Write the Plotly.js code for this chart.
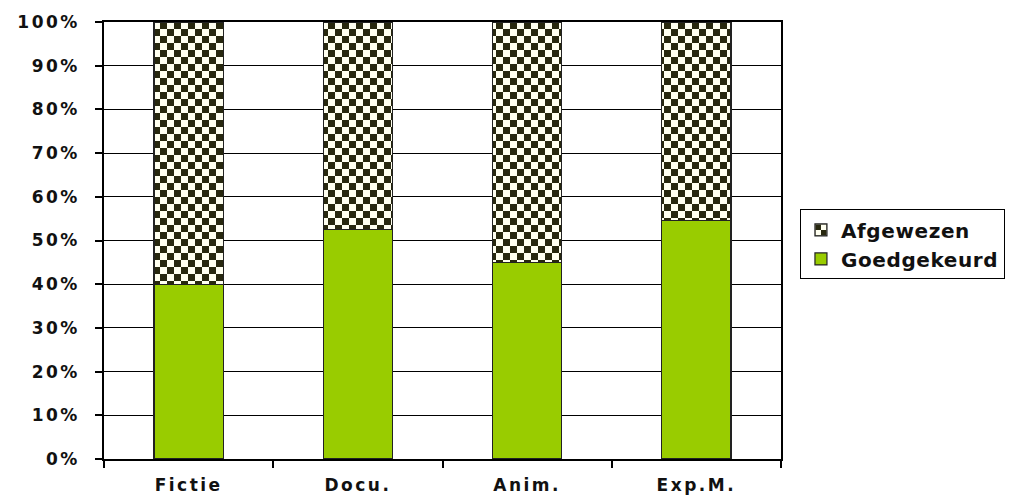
<!DOCTYPE html>
<html>
<head>
<meta charset="utf-8">
<script src="https://cdn.plot.ly/plotly-3.0.1.min.js"></script>
<style>
  html, body { margin: 0; padding: 0; background: #fff; }
  svg text { letter-spacing: 2.5px; }
  svg text.legendtext { letter-spacing: 0.6px; }
</style>
</head>
<body>
<div id="chart" style="width:1012px;height:502px;"></div>
<script>
const categories = ['Fictie', 'Docu.', 'Anim.', 'Exp.M.'];
const goedgekeurd = [0.40, 0.525, 0.45, 0.545];
const afgewezen = [0.60, 0.475, 0.55, 0.455];
const yTickVals = [0, 0.1, 0.2, 0.3, 0.4, 0.5, 0.6, 0.7, 0.8, 0.9, 1.0];
const yTickText = ['0%', '10%', '20%', '30%', '40%', '50%', '60%', '70%', '80%', '90%', '100%'];

const GREEN = '#99cc00';
const DARK = '#28280f';
const CREAM = '#fffff0';
const FAMILY = 'DejaVu Sans, Liberation Sans, Arial, sans-serif';
const FONT = { family: FAMILY, size: 17, color: '#111', weight: 'bold' };
const LEGFONT = { family: FAMILY, size: 20, color: '#111', weight: 'bold' };

const traces = [
  {
    type: 'bar', name: 'Goedgekeurd', x: categories, y: goedgekeurd,
    marker: { color: GREEN, line: { color: '#222', width: 1.2 } },
    hoverinfo: 'x+y+name'
  },
  {
    type: 'bar', name: 'Afgewezen', x: categories, y: afgewezen,
    marker: {
      color: CREAM, line: { color: '#222', width: 1.2 },
      pattern: { shape: '.', fgcolor: DARK, bgcolor: CREAM, size: 14, solidity: 0.5, fillmode: 'replace' }
    },
    hoverinfo: 'x+y+name'
  }
];

const layout = {
  width: 1012, height: 502,
  margin: { l: 104, r: 231, t: 22, b: 43, autoexpand: false },
  paper_bgcolor: '#fff', plot_bgcolor: '#fff',
  barmode: 'stack', bargap: 0.59,
  font: FONT,
  showlegend: true,
  legend: {
    x: 1.028, xanchor: 'left', y: 0.571, yanchor: 'top',
    traceorder: 'reversed',
    bordercolor: '#000', borderwidth: 1, bgcolor: '#fff',
    font: LEGFONT, tracegroupgap: 0, itemwidth: 30
  },
  xaxis: {
    type: 'category', showgrid: false, showline: true, linecolor: '#000', linewidth: 1.5,
    mirror: true, ticks: 'outside', tickson: 'boundaries', ticklen: 7, tickcolor: '#000', tickwidth: 1.5,
    ticklabelstandoff: 10, tickfont: FONT, fixedrange: true
  },
  yaxis: {
    range: [0, 1], tickvals: yTickVals, ticktext: yTickText,
    showgrid: true, gridcolor: '#000', gridwidth: 1.2,
    showline: true, linecolor: '#000', linewidth: 1.5, mirror: true,
    ticks: 'outside', ticklen: 7, tickcolor: '#000', tickwidth: 1.5,
    ticklabelstandoff: 12, tickfont: FONT, zeroline: false, fixedrange: true
  }
};

function checkerize() {
  const NS = 'http://www.w3.org/2000/svg';
  document.querySelectorAll('#chart pattern').forEach(function (p) {
    const s = 14, h = s / 2;
    p.setAttribute('width', s); p.setAttribute('height', s);
    while (p.firstChild) p.removeChild(p.firstChild);
    const mk = function (x, y, w, hh, c) {
      const r = document.createElementNS(NS, 'rect');
      r.setAttribute('x', x); r.setAttribute('y', y);
      r.setAttribute('width', w); r.setAttribute('height', hh);
      r.setAttribute('fill', c);
      p.appendChild(r);
    };
    mk(0, 0, s, s, CREAM);
    mk(0, 0, h, h, DARK);
    mk(h, h, h, h, DARK);
  });
}

Plotly.newPlot('chart', traces, layout, { displayModeBar: false }).then(checkerize);
</script>
</body>
</html>
